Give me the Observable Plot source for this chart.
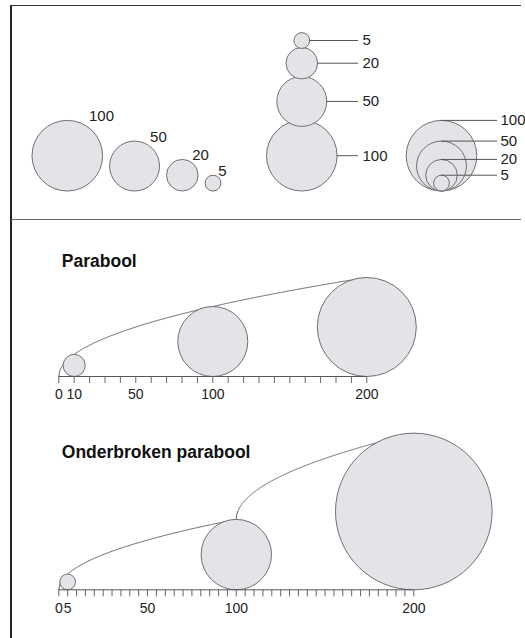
<!DOCTYPE html>
<html><head><meta charset="utf-8">
<script src="https://cdn.jsdelivr.net/npm/d3@7"></script>
<script src="https://cdn.jsdelivr.net/npm/@observablehq/plot@0.6"></script>
<style>
body{margin:0;background:#fff;}
#chart{width:525px;height:638px;position:relative;overflow:hidden;background:#fff;font-family:"Liberation Sans",Arial,sans-serif;}
#chart svg{display:block;position:absolute;left:0;}
.fr{position:absolute;}
</style></head><body><div id="chart"></div>
<script>
// ---- data ----
const legendValues = [100, 50, 20, 5];
const paraboolValues = [10, 100, 200];
const paraboolTicks = [0,10,20,30,40,50,60,70,80,90,100,110,120,130,140,150,160,170,180,190,200];
const paraboolLabels = [0, 10, 50, 100, 200];
const brokenValues = [5, 100, 200];
const brokenTicks = [0,5,10,15,20,25,30,35,40,45,50,55,60,65,70,75,80,85,90,95,100,105,110,115,120,125,130,135,140,145,150,155,160,165,170,175,180,185,190,195,200];
const brokenLabels = [0, 5, 50, 100, 200];
const titles = ["Parabool", "Onderbroken parabool"];

// ---- styles ----
const FILL = "#e3e4e8", STROKE = "#707070", LINE = "#555", TXT = "#222";
const FONT = "Liberation Sans, Arial, sans-serif";
const chart = document.getElementById("chart");

function frameLine(l, t, w, h, c) {
  const d = document.createElement("div");
  d.className = "fr";
  Object.assign(d.style, {left: l + "px", top: t + "px", width: w + "px", height: h + "px", background: c});
  chart.appendChild(d);
}

// ---- panel 1: three legend styles ----
const rTop = Plot.scale({r: {type: "sqrt", domain: [0, 100], range: [0, 35.3]}});
const base = 190.5;
let x0 = 31.5;
const row = legendValues.map(v => {
  const r = rTop.apply(v); const cx = x0 + r; x0 = cx + r + 7;
  return {v, r, cx, cy: base - r};
});
// stacked (snowman)
const stackX = 301.3;
let yb = base;
const stackOverlap = [0, 6, 2.5, 1];
const stacked = legendValues.map((v, i) => {
  const r = rTop.apply(v); const cy = yb + stackOverlap[i] - r; yb = cy - r;
  return {v, r, cx: stackX, cy};
});
// nested
const nestX = 441;
const nested = legendValues.map(v => {
  const r = rTop.apply(v);
  return {v, r, cx: nestX, cy: base - r, top: base - 2 * r};
});

const p1 = Plot.plot({
  width: 525, height: 219, margin: 0,
  x: {type: "identity", axis: null}, y: {type: "identity", axis: null}, r: {type: "identity"},
  style: {fontFamily: FONT, background: "transparent"},
  marks: [
    Plot.dot(row, {x: "cx", y: "cy", r: "r", fill: FILL, stroke: STROKE, strokeWidth: 1}),
    Plot.text(row, {x: d => d.cx + 0.6 * d.r + 0.5, y: d => d.cy - d.r - 4, text: d => String(d.v), textAnchor: "start", lineAnchor: "middle", fontSize: 15, fill: TXT}),
    Plot.dot(stacked, {x: "cx", y: "cy", r: "r", fill: FILL, stroke: "#fff", strokeWidth: 3}),
    Plot.dot(stacked, {x: "cx", y: "cy", r: "r", fill: FILL, stroke: STROKE, strokeWidth: 1}),
    Plot.ruleY(stacked, {y: "cy", x1: d => d.cx + d.r, x2: 358, stroke: LINE, strokeWidth: 1}),
    Plot.text(stacked, {x: 362, y: "cy", text: d => String(d.v), textAnchor: "start", lineAnchor: "middle", fontSize: 15, fill: TXT}),
    Plot.dot(nested, {x: "cx", y: "cy", r: "r", fill: FILL, stroke: STROKE, strokeWidth: 1}),
    Plot.ruleY(nested, {y: "top", x1: "cx", x2: 497, stroke: LINE, strokeWidth: 1}),
    Plot.text(nested, {x: 500, y: "top", text: d => String(d.v), textAnchor: "start", lineAnchor: "middle", fontSize: 15, fill: TXT})
  ]
});
p1.style.top = "0px";
chart.appendChild(p1);

// ---- panel 2: Parabool ----
const H2 = 191, ax2 = 157;
const rPar = Plot.scale({r: {type: "sqrt", domain: [0, 200], range: [0, 49.5]}});
const circ2 = paraboolValues.map(v => ({v, r: rPar.apply(v), cy: ax2 - rPar.apply(v)}));
const env2 = d3.range(0, 200.01, 0.5).map(v => ({v, y: ax2 - 2 * rPar.apply(v)}));
const p2 = Plot.plot({
  width: 525, height: H2, marginTop: 0, marginLeft: 58.3, marginRight: 525 - 366.3, marginBottom: H2 - ax2,
  x: {domain: [0, 200], range: [58.3, 366.3], label: null}, y: {type: "identity", axis: null}, r: {type: "identity"},
  style: {fontFamily: FONT, background: "transparent"},
  marks: [
    Plot.text([titles[0]], {frameAnchor: "top-left", dx: 3, dy: 42, text: d => d, textAnchor: "start", lineAnchor: "middle", fontSize: 17.5, fontWeight: "bold", fill: "#111"}),
    Plot.line(env2, {x: "v", y: "y", stroke: LINE, strokeWidth: 0.9}),
    Plot.dot(circ2, {x: "v", y: "cy", r: "r", fill: FILL, stroke: STROKE, strokeWidth: 1}),
    Plot.ruleY([ax2], {x1: 0, x2: 200, stroke: LINE, strokeWidth: 1}),
    Plot.axisX(paraboolTicks, {anchor: "bottom", tickSize: 7, tickFormat: () => "", stroke: "#666", label: null}),
    Plot.axisX(paraboolLabels, {anchor: "bottom", tickSize: 0, tickPadding: 13, fontSize: 14, fill: TXT, tickFormat: d => String(d), label: null})
  ]
});
p2.style.top = "219px";
chart.appendChild(p2);

// ---- panel 3: Onderbroken parabool ----
const H3 = 228, ax3 = 179.3;
const rLow = Plot.scale({r: {type: "sqrt", domain: [0, 100], range: [0, 35.2]}});
const rHigh = Plot.scale({r: {type: "sqrt", domain: [0, 100], range: [0, 43.1]}});
const rBroken = v => v <= 100 ? rLow.apply(v) : rLow.apply(100) + rHigh.apply(v - 100);
const circ3 = brokenValues.map(v => ({v, r: rBroken(v), cy: ax3 - rBroken(v)}));
const env3a = d3.range(0, 100.01, 0.5).map(v => ({v, y: ax3 - 2 * rBroken(v)}));
const env3b = d3.range(100, 200.01, 0.25).map(v => ({v, y: ax3 - 2 * rBroken(v)}));
const p3 = Plot.plot({
  width: 525, height: H3, marginTop: 0, marginLeft: 58.3, marginRight: 525 - 413.3, marginBottom: H3 - ax3,
  x: {domain: [0, 200], range: [58.3, 413.3], label: null}, y: {type: "identity", axis: null}, r: {type: "identity"},
  style: {fontFamily: FONT, background: "transparent"},
  marks: [
    Plot.text([titles[1]], {frameAnchor: "top-left", dx: 3, dy: 42, text: d => d, textAnchor: "start", lineAnchor: "middle", fontSize: 17.5, fontWeight: "bold", fill: "#111"}),
    Plot.line(env3a, {x: "v", y: "y", stroke: LINE, strokeWidth: 0.9}),
    Plot.line(env3b, {x: "v", y: "y", stroke: LINE, strokeWidth: 0.9}),
    Plot.dot(circ3, {x: "v", y: "cy", r: "r", fill: FILL, stroke: STROKE, strokeWidth: 1}),
    Plot.ruleY([ax3], {x1: 0, x2: 200, stroke: LINE, strokeWidth: 1}),
    Plot.axisX(brokenTicks, {anchor: "bottom", tickSize: 7, tickFormat: () => "", stroke: "#666", label: null}),
    Plot.axisX(brokenLabels, {anchor: "bottom", tickSize: 0, tickPadding: 13, fontSize: 14, fill: TXT, tickFormat: d => String(d), label: null})
  ]
});
p3.style.top = "410px";
chart.appendChild(p3);

// ---- frame ----
frameLine(10.25, 5, 1.5, 633, "#222");
frameLine(11, 5, 510, 1, "#333");
frameLine(11, 218.5, 510, 1, "#666");
</script></body></html>
